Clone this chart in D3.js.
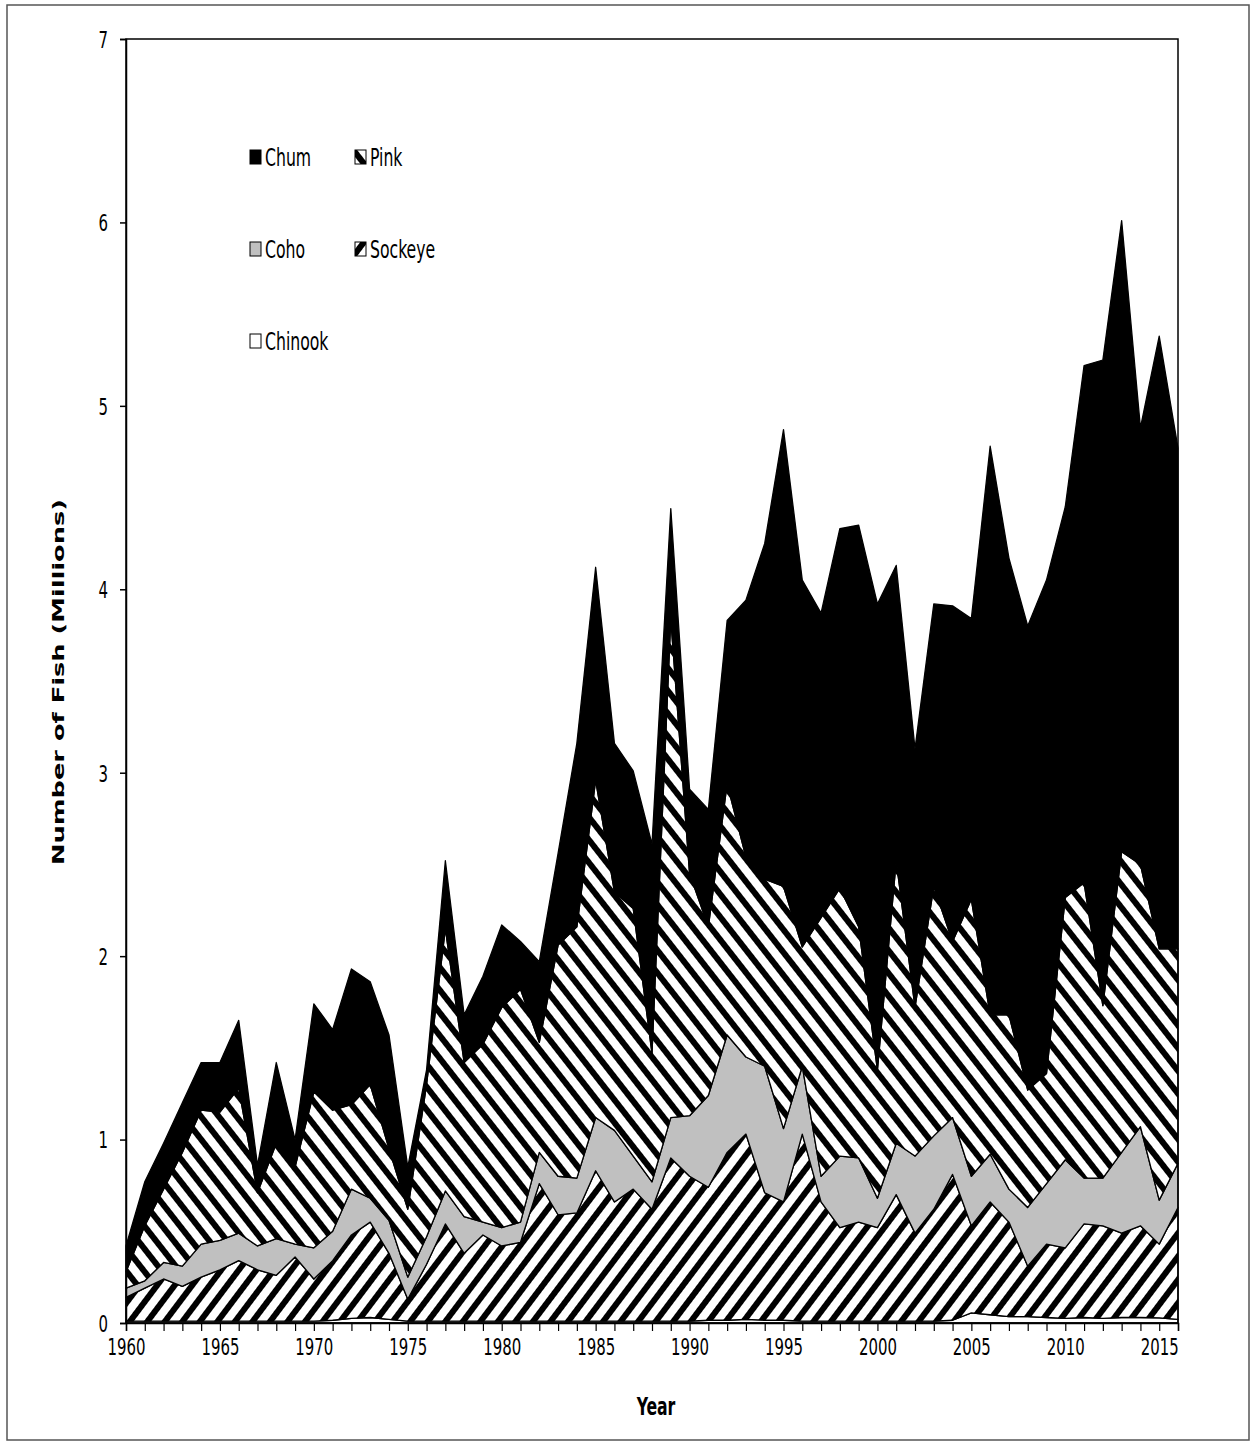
<!DOCTYPE html>
<html><head>
<meta charset="utf-8">
<title>Salmon by species, 1960-2016</title>
<script src="https://cdn.jsdelivr.net/npm/d3@7/dist/d3.min.js"></script>
<style>
  body { margin: 0; background: #fff; }
  text { font-family: "DejaVu Sans Condensed", "Liberation Sans Narrow", sans-serif; fill: #000; }
</style>
</head>
<body>
<svg id="chart" width="1255" height="1445"></svg>

<script>
// values, millions of fish
const years = [1960,1961,1962,1963,1964,1965,1966,1967,1968,1969,1970,1971,1972,1973,1974,1975,1976,1977,1978,1979,
  1980,1981,1982,1983,1984,1985,1986,1987,1988,1989,1990,1991,1992,1993,1994,1995,1996,1997,1998,1999,
  2000,2001,2002,2003,2004,2005,2006,2007,2008,2009,2010,2011,2012,2013,2014,2015,2016];

const chinook = [.01,.01,.01,.01,.01,.01,.01,.01,.01,.01,.01,.015,.025,.03,.02,.01,.01,.01,.01,.01,
  .01,.01,.01,.01,.01,.01,.01,.01,.01,.01,.01,.015,.015,.02,.015,.015,.01,.01,.01,.01,
  .01,.01,.01,.01,.015,.055,.045,.035,.035,.03,.025,.03,.025,.03,.03,.028,.02];

const sockeye = [.13,.18,.23,.19,.24,.28,.33,.28,.25,.35,.23,.325,.455,.52,.36,.12,.31,.53,.37,.47,
  .41,.43,.75,.58,.59,.82,.65,.72,.61,.89,.79,.725,.915,1.01,.695,.645,1.02,.65,.51,.54,
  .51,.69,.48,.61,.795,.475,.615,.515,.275,.40,.385,.51,.505,.46,.50,.402,.61];

const coho = [.05,.04,.09,.11,.18,.16,.15,.13,.20,.07,.17,.16,.25,.13,.18,.12,.15,.18,.20,.07,
  .10,.11,.17,.21,.19,.29,.39,.18,.15,.22,.33,.50,.64,.42,.69,.40,.37,.14,.39,.35,
  .16,.28,.42,.40,.31,.27,.26,.18,.32,.33,.48,.25,.26,.44,.54,.24,.24];

const pink = [.09,.30,.40,.62,.73,.70,.79,.29,.52,.42,.85,.66,.46,.62,.39,.37,.83,1.43,.84,.97,
  1.20,1.27,.60,1.26,1.37,1.84,1.30,1.35,.70,2.72,1.32,.92,1.37,1.09,1.02,1.32,.65,1.41,1.46,1.26,
  .70,1.54,.81,1.36,.96,1.51,.76,.95,.64,.60,1.43,1.61,.94,1.64,1.43,1.37,1.17];

const chum = [.14,.24,.25,.27,.26,.27,.37,.15,.44,.15,.48,.44,.74,.56,.62,.23,.08,.37,.26,.37,
  .45,.26,.44,.50,1.00,1.16,.81,.75,1.14,.60,.46,.64,.89,1.40,1.83,2.49,2.00,1.66,1.96,2.19,
  2.54,1.61,1.41,1.54,1.83,1.53,3.10,2.49,2.53,2.69,2.13,2.82,3.52,3.44,2.38,3.34,2.73];

const species = ["Chinook", "Sockeye", "Coho", "Pink", "Chum"];
const xTickLabels = [1960,1965,1970,1975,1980,1985,1990,1995,2000,2005,2010,2015];
const yTicks = [0,1,2,3,4,5,6,7];

const table = years.map((yr, i) => ({
  year: yr, Chinook: chinook[i], Sockeye: sockeye[i], Coho: coho[i], Pink: pink[i], Chum: chum[i]
}));

const svg = d3.select("#chart");

// outer frame
svg.append("rect")
  .attr("x", 7).attr("y", 5).attr("width", 1242).attr("height", 1435)
  .attr("fill", "none").attr("stroke", "#555").attr("stroke-width", 1.5);

// hatch fills
const defs = svg.append("defs");
function hatch(id, angle) {
  const p = defs.append("pattern")
    .attr("id", id)
    .attr("patternUnits", "userSpaceOnUse")
    .attr("width", 14).attr("height", 14)
    .attr("patternTransform", "rotate(" + angle + ")");
  p.append("rect").attr("width", 14).attr("height", 14).attr("fill", "#fff");
  p.append("rect").attr("width", 6).attr("height", 14).attr("fill", "#000");
}
hatch("sockeyeHatch", 37);
hatch("pinkHatch", -38);

const fills = {
  Chinook: "#fff",
  Sockeye: "url(#sockeyeHatch)",
  Coho: "#c0c0c0",
  Pink: "url(#pinkHatch)",
  Chum: "#000"
};

const x = d3.scaleLinear().domain([1960, 2016]).range([126, 1178]);
const y = d3.scaleLinear().domain([0, 7]).range([1323, 39]);

const stacked = d3.stack().keys(species)(table);

const area = d3.area()
  .x(d => x(d.data.year))
  .y0(d => y(d[0]))
  .y1(d => y(d[1]));

svg.append("g").selectAll("path")
  .data(stacked)
  .join("path")
  .attr("d", area)
  .attr("fill", d => fills[d.key])
  .attr("stroke", "#000")
  .attr("stroke-width", 1.3)
  .attr("stroke-linejoin", "round");

// plot area border
svg.append("rect")
  .attr("x", 126).attr("y", 39).attr("width", 1052).attr("height", 1284)
  .attr("fill", "none").attr("stroke", "#000").attr("stroke-width", 1.5);

// y axis
const yAxis = svg.append("g")
  .attr("transform", "translate(126,0)")
  .call(d3.axisLeft(y).tickValues(yTicks).tickSize(6).tickFormat(d3.format("d")));
yAxis.select(".domain").attr("stroke-width", 1.5);
yAxis.selectAll(".tick line").attr("stroke-width", 1.5);
yAxis.selectAll(".tick text")
  .attr("x", 0).attr("dy", "0.36em")
  .attr("transform", "translate(-18,0) scale(0.83,1.15)")
  .style("font-size", "20px");

// x axis, a tick for every year
const xAxis = svg.append("g")
  .attr("transform", "translate(0,1323)")
  .call(d3.axisBottom(x).tickValues(years).tickSize(8)
    .tickFormat(d => xTickLabels.includes(d) ? d : ""));
xAxis.select(".domain").attr("stroke-width", 1.5);
xAxis.selectAll(".tick line").attr("stroke-width", 1.2);
xAxis.selectAll(".tick text")
  .attr("y", 0).attr("dy", "0.36em")
  .attr("transform", "translate(0,24) scale(0.83,1.15)")
  .style("font-size", "20px");

// axis titles
svg.append("text")
  .attr("transform", "translate(64,682) rotate(-90)")
  .attr("text-anchor", "middle")
  .attr("textLength", 366).attr("lengthAdjust", "spacingAndGlyphs")
  .style("font-family", "'DejaVu Sans', Verdana, sans-serif")
  .style("font-weight", "bold").style("font-size", "16px")
  .text("Number of Fish (Millions)");

svg.append("text")
  .attr("transform", "translate(656,1406) scale(0.83,1.15)")
  .attr("text-anchor", "middle").attr("dy", "0.36em")
  .style("font-weight", "bold").style("font-size", "21px")
  .text("Year");

// legend
const legendItems = [
  { key: "Chum", x: 250, y: 157 },
  { key: "Pink", x: 355, y: 157 },
  { key: "Coho", x: 250, y: 249 },
  { key: "Sockeye", x: 355, y: 249 },
  { key: "Chinook", x: 250, y: 341 }
];
const lg = svg.append("g").selectAll("g")
  .data(legendItems)
  .join("g")
  .attr("transform", d => "translate(" + d.x + "," + d.y + ")");
lg.append("rect")
  .attr("x", 0).attr("y", -7).attr("width", 11).attr("height", 14)
  .attr("fill", d => fills[d.key]).attr("stroke", "#000").attr("stroke-width", 1);
lg.append("text")
  .attr("transform", "translate(15,0) scale(0.83,1.15)")
  .attr("dy", "0.36em")
  .style("font-size", "21px")
  .text(d => d.key);
</script>
</body></html>
